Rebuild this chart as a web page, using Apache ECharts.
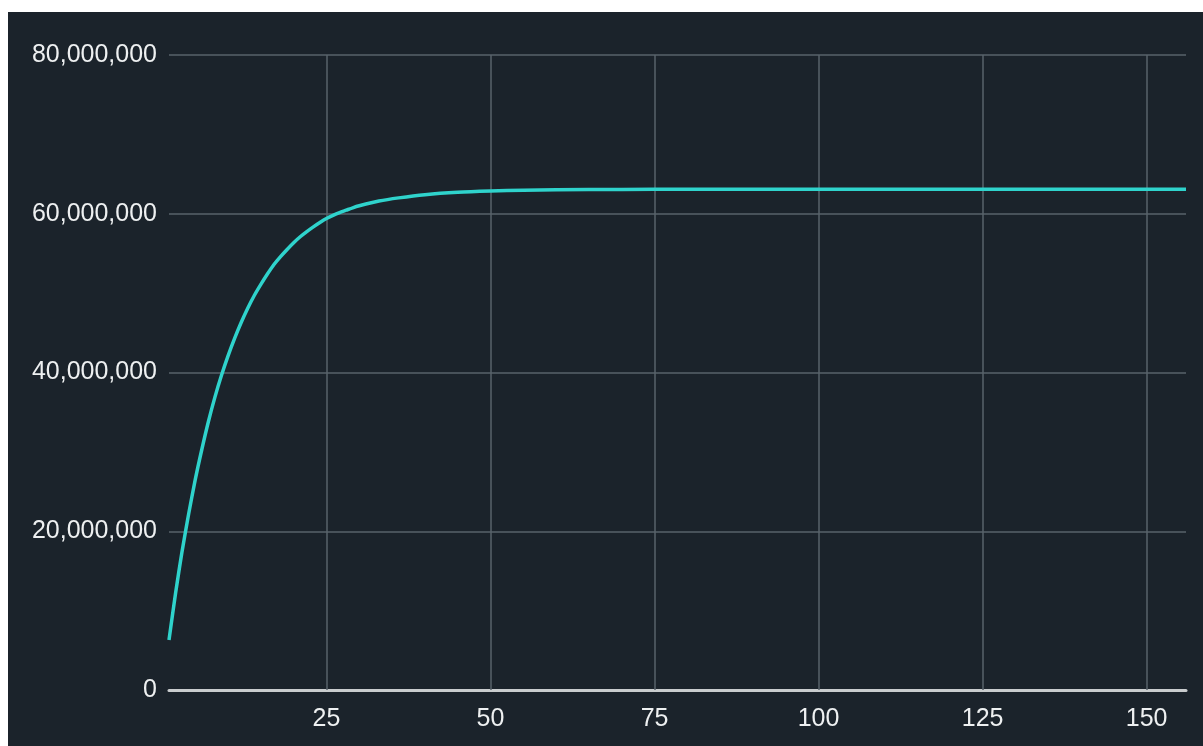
<!DOCTYPE html>
<html><head><meta charset="utf-8">
<script src="https://cdn.jsdelivr.net/npm/echarts@6/dist/echarts.min.js"></script>
<style>
html,body{margin:0;padding:0;background:#ffffff;width:1203px;height:746px;overflow:hidden}
#c{position:absolute;left:8px;top:12px;width:1195px;height:734px;background:#1b232b}
</style></head><body>
<div id="c"></div>
<script>
const xValues = [1,2,3,4,5,6,7,8,9,10,11,12,13,14,15,16,17,18,19,20,21,22,23,24,25,26,27,28,29,30,33,36,40,45,50,55,60,70,80,100,125,156];
const yValues = [6.3e6,12.2e6,17.5e6,22.2e6,26.5e6,30.3e6,33.8e6,36.9e6,39.65e6,42.1e6,44.3e6,46.3e6,48.1e6,49.7e6,51.1e6,52.4e6,53.6e6,54.6e6,55.5e6,56.35e6,57.1e6,57.75e6,58.35e6,58.9e6,59.4e6,59.8e6,60.15e6,60.45e6,60.75e6,61.0e6,61.6e6,62.0e6,62.4e6,62.7e6,62.86e6,62.96e6,63.01e6,63.07e6,63.09e6,63.1e6,63.1e6,63.1e6];
const xTicks = [25,50,75,100,125,150];
const yTicks = [0,20000000,40000000,60000000,80000000];

const chart = echarts.init(document.getElementById('c'), null, {renderer:'canvas'});
const fmt = v => v.toLocaleString('en-US');
const font = 'Liberation Sans, Arial, sans-serif';
chart.setOption({
  backgroundColor:'#1b232b',
  animation:false,
  grid:{left:161,top:43,right:17,bottom:56,containLabel:false},
  xAxis:{
    type:'value', min:1, max:156,
    axisLine:{show:true,lineStyle:{color:'#c9ccce',width:3}},
    axisTick:{show:false, customValues:xTicks},
    axisLabel:{color:'#eef0f1',fontSize:25,fontFamily:font,margin:17,customValues:xTicks},
    splitLine:{show:false}
  },
  yAxis:{
    type:'value', min:yTicks[0], max:yTicks[yTicks.length-1], interval:20000000,
    axisLine:{show:false}, axisTick:{show:false},
    axisLabel:{color:'#eef0f1',fontSize:25,fontFamily:font,margin:12,formatter:fmt},
    splitLine:{show:true,lineStyle:{color:'#59636b',width:1.5}}
  },
  series:[{
    type:'line', smooth:0.25, symbol:'none',
    data:xValues.map((x,i)=>[x,yValues[i]]),
    lineStyle:{color:'#2fd3cc',width:3.5},
    z:5,
    markLine:{
      silent:true, symbol:['none','none'], label:{show:false},
      lineStyle:{color:'#59636b',width:1.5,type:'solid'},
      emphasis:{disabled:true},
      data:xTicks.map(v=>({xAxis:v})),
      z:1
    }
  }]
});
</script>
</body></html>
